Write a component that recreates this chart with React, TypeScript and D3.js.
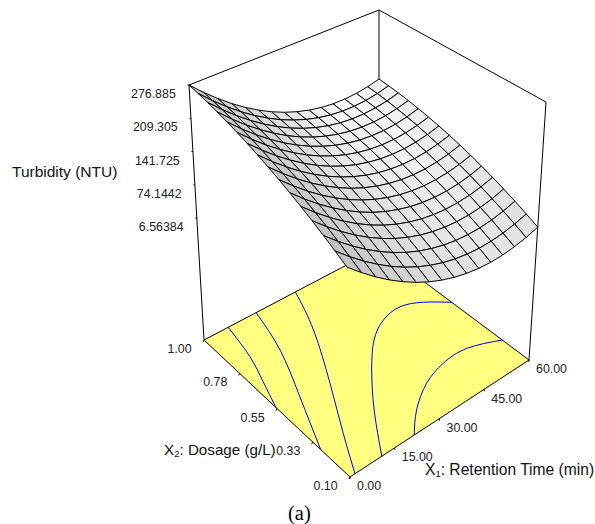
import React from "react";
import * as d3 from "d3";

const retentionTicks = [0, 15, 30, 45, 60];
const dosageTicks = [0.1, 0.33, 0.55, 0.78, 1.0];
const dosageLabels = ["0.10", "0.33", "0.55", "0.78", "1.00"];
const turbidityTicks = [6.56384, 74.1442, 141.725, 209.305, 276.885];
const turbidityLabels = ["6.56384", "74.1442", "141.725", "209.305", "276.885"];

// Turbidity: rows run over dosage 0.10 -> 1.00, columns over retention 0 -> 60.
const turbidity: number[][] = [
  [150.0,125.6,103.5,83.7,66.2,51.0,38.1,27.6,19.3,13.3,9.6,8.2,9.1,12.4,17.9,25.7],
  [163.1,138.6,116.4,96.5,78.8,63.5,50.5,39.9,31.5,25.4,21.6,20.0,20.8,24.0,29.4,37.1],
  [175.6,151.0,128.6,108.6,90.9,75.5,62.3,51.6,43.1,36.8,32.9,31.3,31.9,35.0,40.3,47.9],
  [187.4,162.7,140.2,120.1,102.2,86.7,73.4,62.6,53.9,47.6,43.6,41.8,42.4,45.3,50.5,57.9],
  [198.5,173.6,151.1,130.8,112.9,97.2,83.8,72.9,64.1,57.7,53.5,51.6,52.1,54.9,60.0,67.3],
  [209.0,184.0,161.4,141.0,122.9,107.1,93.6,82.6,73.7,67.1,62.8,60.9,61.2,63.9,68.8,76.1],
  [218.8,193.7,170.9,150.4,132.2,116.4,102.8,91.6,82.6,75.9,71.5,69.4,69.6,72.2,77.0,84.1],
  [227.9,202.7,179.8,159.2,140.9,124.9,111.2,99.9,90.8,84.0,79.4,77.2,77.3,79.8,84.5,91.5],
  [236.4,211.1,188.1,167.3,148.9,132.8,119.0,107.6,98.3,91.4,86.8,84.5,84.5,86.8,91.4,98.3],
  [244.2,218.8,195.6,174.8,156.3,140.0,126.1,114.6,105.2,98.2,93.4,91.0,90.9,93.1,97.6,104.4],
  [251.3,225.8,202.5,181.6,162.9,146.6,132.5,120.8,111.4,104.2,99.4,96.8,96.6,98.7,103.1,109.7],
  [257.7,232.0,208.7,187.6,168.8,152.4,138.2,126.4,116.9,109.6,104.6,102.0,101.6,103.6,107.9,114.4],
  [263.5,237.7,214.2,193.1,174.2,157.6,143.3,131.4,121.8,114.4,109.3,106.5,106.0,108.0,112.1,118.5],
  [268.7,242.8,219.2,197.9,178.9,162.2,147.8,135.8,126.0,118.5,113.3,110.4,109.9,111.7,115.7,122.0],
  [273.1,247.1,223.4,202.0,182.9,166.1,151.5,139.4,129.5,121.9,116.6,113.6,112.9,114.6,118.5,124.6],
  [276.9,250.8,227.0,205.4,186.2,169.3,154.6,142.4,132.4,124.7,119.2,116.1,115.3,116.9,120.6,126.7],
];

// Contour lines read from the floor, as [retention, dosage].
const contourA: [number, number][] = [[7.6,1],[5.5,0.809],[2.8,0.667],[0,0.529]];
const contourB: [number, number][] = [[16.6,1],[12.9,0.764],[6.7,0.517],[0,0.264]];
const contourC: [number, number][] = [[29.8,1],[24.2,0.771],[15.3,0.499],[7.3,0.272],[1.5,0.1]];
const contourD: [number, number][] = [[9.7,0.1],[17.9,0.287],[26.4,0.452],[34,0.573],[41,0.638],[47.9,0.655],[54,0.615],[60,0.54]];
const contourE: [number, number][] = [[20,0.1],[25.9,0.186],[34,0.264],[42.1,0.302],[50.6,0.303],[60,0.247]];
const contours = [contourA, contourB, contourC, contourD, contourE];

type Pt = [number, number];
function quadMap(p00: Pt, p10: Pt, p11: Pt, p01: Pt) {
  const dx1 = p10[0] - p11[0], dx2 = p01[0] - p11[0], sx = p00[0] - p10[0] + p11[0] - p01[0];
  const dy1 = p10[1] - p11[1], dy2 = p01[1] - p11[1], sy = p00[1] - p10[1] + p11[1] - p01[1];
  const den = dx1 * dy2 - dx2 * dy1;
  const g = (sx * dy2 - dx2 * sy) / den;
  const h = (dx1 * sy - sx * dy1) / den;
  const a = p10[0] - p00[0] + g * p10[0], b = p01[0] - p00[0] + h * p01[0];
  const d = p10[1] - p00[1] + g * p10[1], e = p01[1] - p00[1] + h * p01[1];
  return (u: number, v: number): Pt => {
    const w = g * u + h * v + 1;
    return [(a * u + b * v + p00[0]) / w, (d * u + e * v + p00[1]) / w];
  };
}

const floorMap = quadMap([350, 477], [529, 360], [379, 248], [204, 340]);
const topMap = quadMap([346, 199], [546, 102], [379, 10], [189, 85]);
const uScale = d3.scaleLinear().domain([0, 60]).range([0, 1]);
const vScale = d3.scaleLinear().domain([0.1, 1]).range([0, 1]);
const tScale = d3.scaleLinear().domain([6.56384, 276.885]).range([0.478, 1]);

function project(x1: number, x2: number, z: number | null): Pt {
  const u = uScale(x1), v = vScale(x2);
  const f = floorMap(u, v);
  if (z === null) return f;
  const top = topMap(u, v), t = tScale(z);
  return [f[0] + t * (top[0] - f[0]), f[1] + t * (top[1] - f[1])];
}

const poly = (pts: Pt[]) => "M" + pts.map((p) => p[0].toFixed(2) + "," + p[1].toFixed(2)).join("L") + "Z";
const seg = (a: Pt, b: Pt) => `M${a[0]},${a[1]}L${b[0]},${b[1]}`;
const along = (a: Pt, b: Pt, t: number): Pt => [a[0] + (b[0] - a[0]) * t, a[1] + (b[1] - a[1]) * t];

const nCols = turbidity[0].length, nRows = turbidity.length;
const colX = d3.range(nCols).map((i) => (i * 60) / (nCols - 1));
const rowX = d3.range(nRows).map((j) => 0.1 + (j * 0.9) / (nRows - 1));
const shade = d3.scaleLinear().domain([30, 410]).range([250, 196]).clamp(true);

const cells: { d: string; fill: string }[] = [];
for (let s = nCols + nRows - 4; s >= 0; s--) {
  for (let j = nRows - 2; j >= 0; j--) {
    const i = s - j;
    if (i < 0 || i > nCols - 2) continue;
    const z00 = turbidity[j][i], z10 = turbidity[j][i + 1], z01 = turbidity[j + 1][i], z11 = turbidity[j + 1][i + 1];
    const gu = ((z10 + z11 - z00 - z01) / 2) * (nCols - 1);
    const gv = ((z01 + z11 - z00 - z10) / 2) * (nRows - 1);
    const g = Math.round(shade(Math.hypot(gu, gv)));
    cells.push({
      d: poly([
        project(colX[i], rowX[j], z00),
        project(colX[i + 1], rowX[j], z10),
        project(colX[i + 1], rowX[j + 1], z11),
        project(colX[i], rowX[j + 1], z01),
      ]),
      fill: `rgb(${g},${g},${g})`,
    });
  }
}

const contourLine = d3.line<[number, number]>()
  .x((d) => project(d[0], d[1], null)[0])
  .y((d) => project(d[0], d[1], null)[1])
  .curve(d3.curveNatural);

const sans = "'Liberation Sans', Arial, sans-serif";

export default function App() {
  const L = project(0, 1, null), F = project(0, 0.1, null), R = project(60, 0.1, null), B = project(60, 1, null);
  const tl = topMap(0, 1), tb = topMap(1, 1), tr = topMap(1, 0);
  const zPoint = (z: number): Pt => project(0, 1, z);
  const retPoint = (x: number): Pt => along(F, R, uScale(x));
  const dosePoint = (x: number): Pt => along(F, L, vScale(x));
  return (
    <svg width={595} height={524} style={{ position: "absolute", left: 0, top: 0, background: "#fff" }}>
      <path d={poly([F, R, B, L])} fill="#ffff80" stroke="#000" strokeWidth={1} />
      {contours.map((c, i) => (
        <path key={i} d={contourLine(c) || ""} fill="none" stroke="#0000e6" strokeWidth={1} />
      ))}
      <g fill="none" stroke="#000" strokeWidth={1}>
        <path d={seg(tl, tb) + seg(tb, tr) + seg(tb, B)} />
        <path d={seg(tl, L) + seg(tr, R)} />
      </g>
      <g stroke="#000" strokeWidth={1} strokeLinejoin="round">
        {cells.map((c, i) => (
          <path key={i} d={c.d} fill={c.fill} />
        ))}
      </g>
      <g stroke="#000" strokeWidth={1}>
        {turbidityTicks.map((z) => {
          const p = zPoint(z);
          return <path key={z} d={seg([p[0] - 1.5, p[1]], p)} />;
        })}
        {retentionTicks.map((x) => {
          const p = retPoint(x);
          return <path key={x} d={seg(p, [p[0], p[1] + 2])} />;
        })}
        {dosageTicks.map((x) => {
          const p = dosePoint(x);
          return <path key={x} d={seg(p, [p[0] - 1, p[1] + 2])} />;
        })}
      </g>
      <g fontFamily={sans} fontSize={12.4} fill="#222">
        {turbidityTicks.map((z, i) => {
          const p = zPoint(z);
          return <text key={z} x={p[0] - 58} y={p[1] + 13}>{turbidityLabels[i]}</text>;
        })}
        {retentionTicks.map((x) => {
          const p = retPoint(x);
          return <text key={x} x={p[0] + 7} y={p[1] + 13.3}>{x.toFixed(2)}</text>;
        })}
        {dosageTicks.map((x, i) => {
          const p = dosePoint(x);
          return <text key={x} x={p[0] - 36.5} y={p[1] + 13}>{dosageLabels[i]}</text>;
        })}
      </g>
      <g fontFamily={sans} fontSize={15.5} fill="#111">
        <text x={12} y={177}>Turbidity (NTU)</text>
        <text x={164} y={455} fontSize={15.2}>
          X<tspan fontSize={9.5} dy={2}>2</tspan><tspan dy={-2}>: Dosage (g/L)</tspan>
        </text>
        <text x={425} y={475} fontSize={15.6}>
          X<tspan fontSize={9.5} dy={2}>1</tspan><tspan dy={-2}>: Retention Time (min)</tspan>
        </text>
      </g>
      <text x={288} y={520} fontFamily="'Liberation Serif', 'Times New Roman', serif" fontSize={20.5} fill="#000">(a)</text>
    </svg>
  );
}
